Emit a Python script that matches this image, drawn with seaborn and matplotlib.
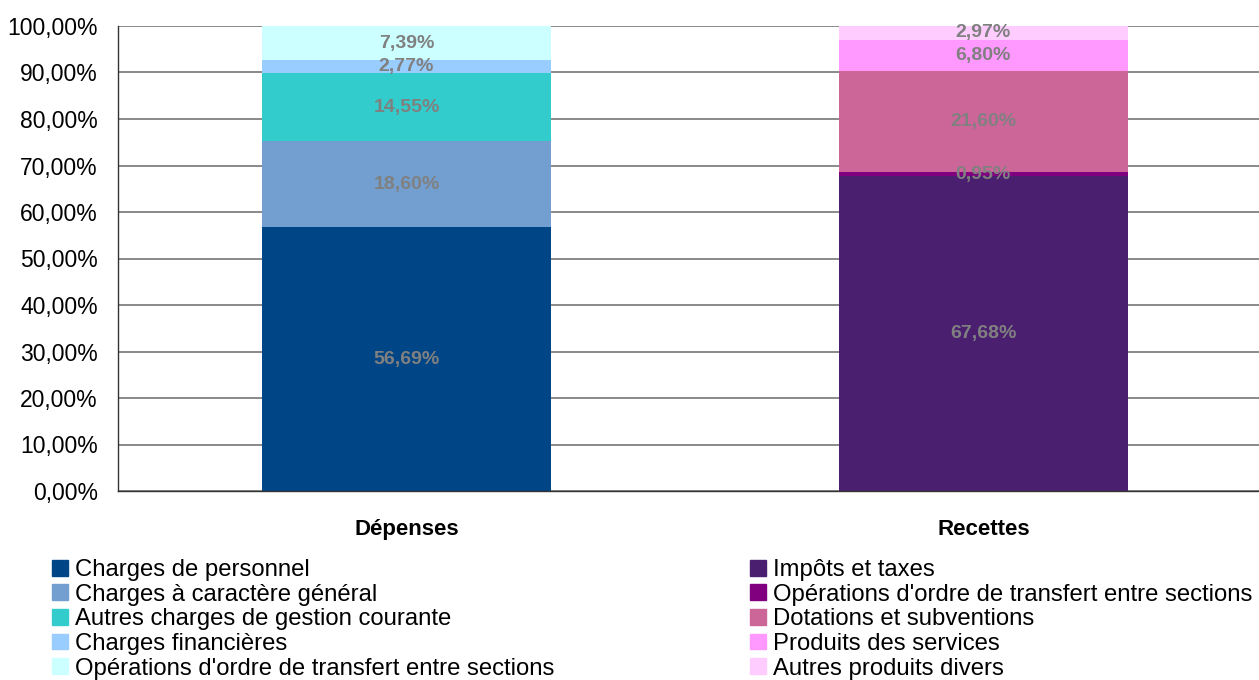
import numpy as np
import matplotlib
matplotlib.use("Agg")
import matplotlib.pyplot as plt
from matplotlib.patches import Patch
import seaborn as sns

# --- Data ---
categories = ["Dépenses", "Recettes"]

dep_labels = ["Charges de personnel", "Charges à caractère général",
              "Autres charges de gestion courante", "Charges financières",
              "Opérations d'ordre de transfert entre sections"]
dep_values = [56.69, 18.60, 14.55, 2.77, 7.39]

rec_labels = ["Impôts et taxes", "Opérations d'ordre de transfert entre sections",
              "Dotations et subventions", "Produits des services",
              "Autres produits divers"]
rec_values = [67.68, 0.95, 21.60, 6.80, 2.97]

dep_colors = ["#004586", "#729FCF", "#33CCCC", "#99CCFF", "#CCFFFF"]
rec_colors = ["#4B1F6F", "#800080", "#CC6699", "#FF99FF", "#FFCCFF"]

# --- Style ---
sns.set_style("white")
plt.rcParams["font.family"] = ["Liberation Sans", "DejaVu Sans"]
plt.rcParams["text.color"] = "black"
plt.rcParams["xtick.color"] = "black"
plt.rcParams["ytick.color"] = "black"

fig = plt.figure(figsize=(12.59, 6.8), dpi=100)
W, H = 1259, 680
ax = fig.add_axes([118 / W, (H - 491) / H, (1271.75 - 118) / W, 465 / H])

dep_cum = np.cumsum(dep_values)
rec_cum = np.cumsum(rec_values)

# stacked bars: draw cumulative tops from the highest layer down
for i in reversed(range(len(dep_values))):
    sns.barplot(x=categories, y=[dep_cum[i], rec_cum[i]], hue=categories,
                palette=[dep_colors[i], rec_colors[i]], width=0.5,
                saturation=1, legend=False, ax=ax, zorder=2,
                linewidth=0, edgecolor="none")

# segment labels
for xi, vals, cum in [(0, dep_values, dep_cum), (1, rec_values, rec_cum)]:
    for v, c in zip(vals, cum):
        ax.text(xi, c - v / 2, f"{v:.2f}%".replace(".", ","), ha="center",
                va="center", color="#808080", fontsize=14, fontweight="bold",
                zorder=3)

ax.set_xlim(-0.5, 1.5)
ax.set_ylim(0, 100)
ax.set_yticks(np.arange(0, 101, 10))
ax.set_yticklabels([f"{v:.2f}%".replace(".", ",") for v in np.arange(0, 101, 10)],
                   fontsize=16.5)
ax.yaxis.grid(True, color="#808080", linewidth=1.3)
ax.set_axisbelow(True)
ax.tick_params(axis="y", direction="inout", length=8, width=1, color="#333333", pad=10.5)

ax.set_xticks([0, 1])
ax.set_xticklabels(categories, fontsize=16, fontweight="bold")
ax.set_xticks([-0.5, 0.5, 1.5], minor=True)
ax.tick_params(axis="x", which="major", length=0, pad=20)
ax.tick_params(axis="x", which="minor", direction="out", length=6, width=1, color="#333333")
ax.set_xlabel("")
ax.set_ylabel("")

for s in ["top", "right"]:
    ax.spines[s].set_visible(False)
for s in ["left", "bottom"]:
    ax.spines[s].set_color("#333333")
    ax.spines[s].set_linewidth(1)

# --- Legends (two columns) ---
leg_kw = dict(loc="upper left", frameon=False, fontsize=17.2, borderpad=0,
              borderaxespad=0, handlelength=0.65, handleheight=0.65,
              handletextpad=0.3, labelspacing=0.11, labelcolor="black")
fig.legend(handles=[Patch(color=c, label=l) for c, l in zip(dep_colors, dep_labels)],
           bbox_to_anchor=(52 / W, (H - 559) / H), **leg_kw)
fig.legend(handles=[Patch(color=c, label=l) for c, l in zip(rec_colors, rec_labels)],
           bbox_to_anchor=(750 / W, (H - 559) / H), **leg_kw)

fig.savefig("out.png", dpi=100)
